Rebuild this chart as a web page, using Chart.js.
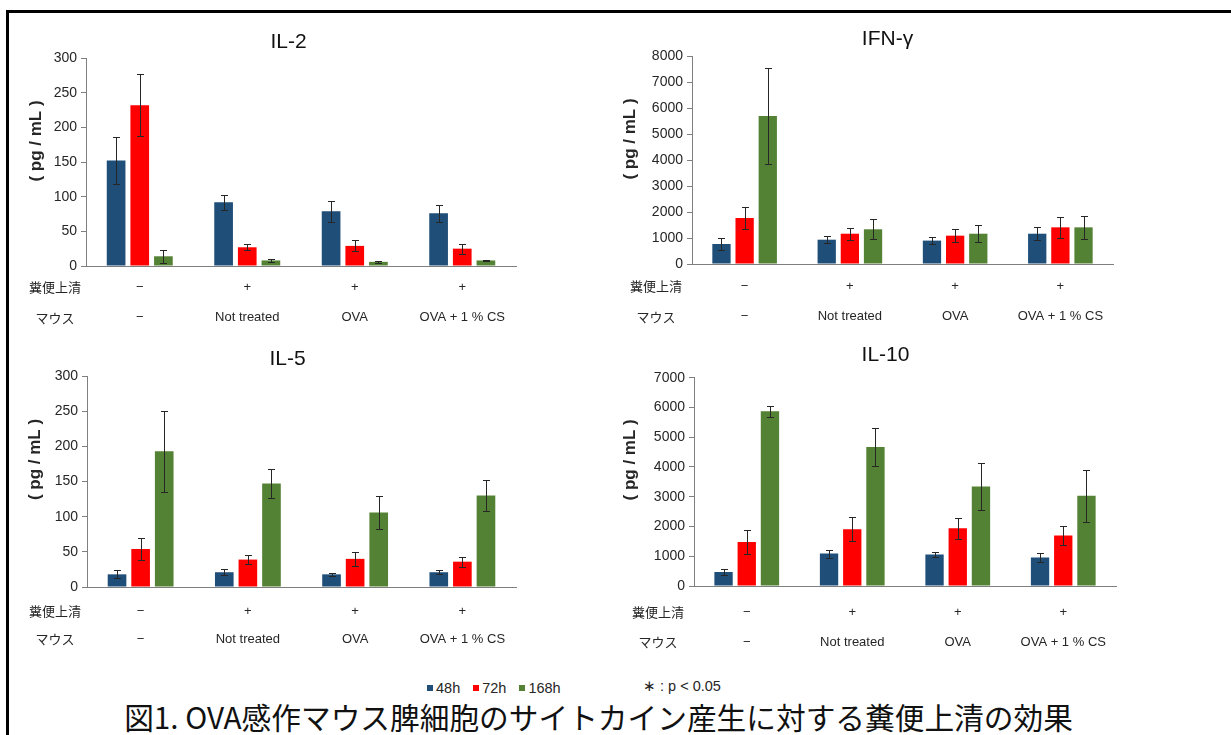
<!DOCTYPE html>
<html>
<head>
<meta charset="utf-8">
<script src="https://cdn.jsdelivr.net/npm/chart.js@4.4.1/dist/chart.umd.min.js"></script>
<style>
body { margin: 0; background: #fff; width: 1231px; height: 735px; overflow: hidden; position: relative; font-family: 'Liberation Sans', Arial, sans-serif; }
canvas { position: absolute; }
#frame { position: absolute; left: 6px; top: 10px; width: 1300px; height: 800px; border-left: 3px solid #000; border-top: 3px solid #000; }
#legend { position: absolute; left: 427px; top: 680px; font-size: 14.5px; color: #262626; white-space: nowrap; }
#legend span.sq { display: inline-block; width: 6px; height: 6px; margin-right: 3px; vertical-align: middle; position: relative; top: -1px; }
#legend span.it { margin-right: 13px; }
#note { position: absolute; left: 643px; top: 678px; font-size: 14.5px; color: #262626; }
#caption { position: absolute; left: 0; width: 1197px; top: 699px; line-height: 36px; text-align: center; font-family: 'Noto Sans CJK JP', sans-serif; font-size: 29.7px; color: #111; white-space: nowrap; }
</style>
</head>
<body>
<div id="frame"></div>
<canvas id="il2" width="530" height="341" style="left:0px;top:0px"></canvas>
<canvas id="ifn" width="512" height="339" style="left:615px;top:0px"></canvas>
<canvas id="il5" width="530" height="327" style="left:0px;top:335px"></canvas>
<canvas id="il10" width="515" height="326" style="left:615px;top:335px"></canvas>
<div id="legend"></div>
<div id="note">∗ : p &lt; 0.05</div>
<div id="caption">図1. OVA感作マウス脾細胞のサイトカイン産生に対する糞便上清の効果</div>
<script>
// groups on the x axis (two label rows)
var supernatant = ['−', '+', '+', '+'];
var mouse = ['−', 'Not treated', 'OVA', 'OVA + 1 % CS'];
var rowHeads = ['糞便上清', 'マウス'];
var series = ['48h', '72h', '168h'];
var colors = ['#1f4e79', '#ff0000', '#548235'];
var yTitle = '( pg / mL )';

// IL-2 (pg/mL)
var il2_48h = [152, 92, 79, 76];
var il2_72h = [232, 27, 29, 25];
var il2_168h = [14, 8, 6, 8];
var il2_48hErr = [34, 11, 15, 12];
var il2_72hErr = [45, 4.5, 8, 7];
var il2_168hErr = [9, 2, 1, 1];

// IFN-γ
var ifn_48h = [770, 935, 900, 1165];
var ifn_72h = [1770, 1165, 1090, 1410];
var ifn_168h = [5690, 1335, 1165, 1410];
var ifn_48hErr = [215, 130, 140, 255];
var ifn_72hErr = [420, 230, 260, 400];
var ifn_168hErr = [1830, 385, 320, 455];

// IL-5
var il5_48h = [18, 21, 18, 21];
var il5_72h = [54, 39, 40, 36];
var il5_168h = [193, 147, 106, 130];
var il5_48hErr = [5.7, 4, 2.6, 3];
var il5_72hErr = [15, 6.7, 9.5, 7];
var il5_168hErr = [57.5, 21, 23, 22.5];

// IL-10
var il10_48h = [470, 1090, 1055, 955];
var il10_72h = [1480, 1910, 1940, 1695];
var il10_168h = [5870, 4670, 3345, 3030];
var il10_48hErr = [90, 135, 78, 145];
var il10_72hErr = [415, 405, 360, 310];
var il10_168hErr = [175, 625, 775, 865];

Chart.defaults.font.family = "'Liberation Sans', Arial, sans-serif";

var errorBars = {
    id: 'errorBars',
    afterDatasetsDraw: function(chart) {
        var ctx = chart.ctx;
        var y = chart.scales.y;
        ctx.save();
        ctx.strokeStyle = '#262626';
        ctx.lineWidth = 1;
        chart.data.datasets.forEach(function(ds, i) {
            chart.getDatasetMeta(i).data.forEach(function(bar, j) {
                var v = ds.data[j], e = ds.errors[j];
                var top = Math.round(y.getPixelForValue(v + e)) + 0.5;
                var bot = Math.round(y.getPixelForValue(v - e)) + 0.5;
                var x = Math.round(bar.x) + 0.5;
                ctx.beginPath();
                ctx.moveTo(x, top); ctx.lineTo(x, bot);
                ctx.moveTo(x - 3.5, top); ctx.lineTo(x + 3.5, top);
                ctx.moveTo(x - 3.5, bot); ctx.lineTo(x + 3.5, bot);
                ctx.stroke();
            });
        });
        ctx.restore();
    }
};

// panel title, row headers left of the x labels, and the rotated unit label
var sideLabels = {
    id: 'sideLabels',
    afterDraw: function(chart, args, opts) {
        var ctx = chart.ctx, area = chart.chartArea, xs = chart.scales.x;
        ctx.save();
        ctx.textAlign = 'center';
        ctx.textBaseline = 'middle';
        ctx.fillStyle = '#111';
        ctx.font = "21px 'Liberation Sans'";
        ctx.fillText(opts.title, (area.left + area.right) / 2 + opts.titleDX, area.top + opts.titleDY);
        ctx.fillStyle = '#262626';
        ctx.font = '13px "Noto Sans CJK JP"';
        rowHeads.forEach(function(t, i) {
            ctx.fillText(t, area.left + opts.rowX, xs.top + opts.pad + opts.line / 2 + i * opts.line);
        });
        ctx.translate(area.left + opts.unitX, (area.top + area.bottom) / 2 + opts.unitShift);
        ctx.rotate(-Math.PI / 2);
        ctx.font = "bold 17px 'Liberation Sans'";
        ctx.fillText(yTitle, 0, 0);
        ctx.restore();
    }
};

function makePanel(id, title, ymax, step, vals, errs, g) {
    return new Chart(document.getElementById(id), {
        type: 'bar',
        data: {
            labels: supernatant.map(function(s, i) { return [s, mouse[i]]; }),
            datasets: series.map(function(name, k) {
                return {
                    label: name,
                    data: vals[k],
                    errors: errs[k],
                    backgroundColor: colors[k],
                    categoryPercentage: 0.66,
                    barPercentage: 0.79
                };
            })
        },
        options: {
            responsive: false,
            animation: false,
            layout: { padding: { left: 0, right: 14, top: g.top, bottom: 0 } },
            plugins: {
                legend: { display: false },
                tooltip: { enabled: false },
                sideLabels: {
                    title: title, titleDX: g.titleDX, titleDY: g.titleDY,
                    rowX: g.rowX, pad: g.pad, line: g.line, unitX: g.unitX, unitShift: g.unitShift
                }
            },
            scales: {
                x: {
                    grid: { display: false, drawTicks: false },
                    border: { color: '#7f7f7f' },
                    ticks: { padding: g.pad, color: '#262626', maxRotation: 0, autoSkip: false,
                             font: { size: 13, lineHeight: g.line + 'px' } },
                    afterFit: function(s) { s.height = 75; }
                },
                y: {
                    min: 0,
                    max: ymax,
                    ticks: { stepSize: step, padding: 4, color: '#262626', font: { size: 14 },
                             callback: function(v) { return v; } },
                    grid: { drawOnChartArea: false, tickLength: 5, color: '#7f7f7f' },
                    border: { color: '#7f7f7f' },
                    afterFit: function(s) { s.width = g.yw; }
                }
            }
        },
        plugins: [errorBars, sideLabels]
    });
}

makePanel('il2', 'IL-2', 300, 50,
    [il2_48h, il2_72h, il2_168h], [il2_48hErr, il2_72hErr, il2_168hErr],
    { yw: 86, top: 58, titleDX: -12.5, titleDY: -15.5, pad: 6, line: 30.5,
      rowX: -31, unitX: -50, unitShift: -21 });

makePanel('ifn', 'IFN-γ', 8000, 1000,
    [ifn_48h, ifn_72h, ifn_168h], [ifn_48hErr, ifn_72hErr, ifn_168hErr],
    { yw: 77, top: 56, titleDX: -15, titleDY: -16.3, pad: 6.6, line: 30.7,
      rowX: -36, unitX: -61.5, unitShift: -21 });

makePanel('il5', 'IL-5', 300, 50,
    [il5_48h, il5_72h, il5_168h], [il5_48hErr, il5_72hErr, il5_168hErr],
    { yw: 87, top: 41, titleDX: -14, titleDY: -16.5, pad: 9.75, line: 28.5,
      rowX: -32, unitX: -51.5, unitShift: -22 });

makePanel('il10', 'IL-10', 7000, 1000,
    [il10_48h, il10_72h, il10_168h], [il10_48hErr, il10_72hErr, il10_168hErr],
    { yw: 79, top: 42.7, titleDX: -19.5, titleDY: -22, pad: 10.85, line: 30.3,
      rowX: -36, unitX: -64, unitShift: -22 });

// legend
var legend = document.getElementById('legend');
series.forEach(function(name, k) {
    var it = document.createElement('span');
    it.className = 'it';
    it.innerHTML = '<span class="sq" style="background:' + colors[k] + '"></span>' + name;
    legend.appendChild(it);
});
</script>
</body>
</html>
